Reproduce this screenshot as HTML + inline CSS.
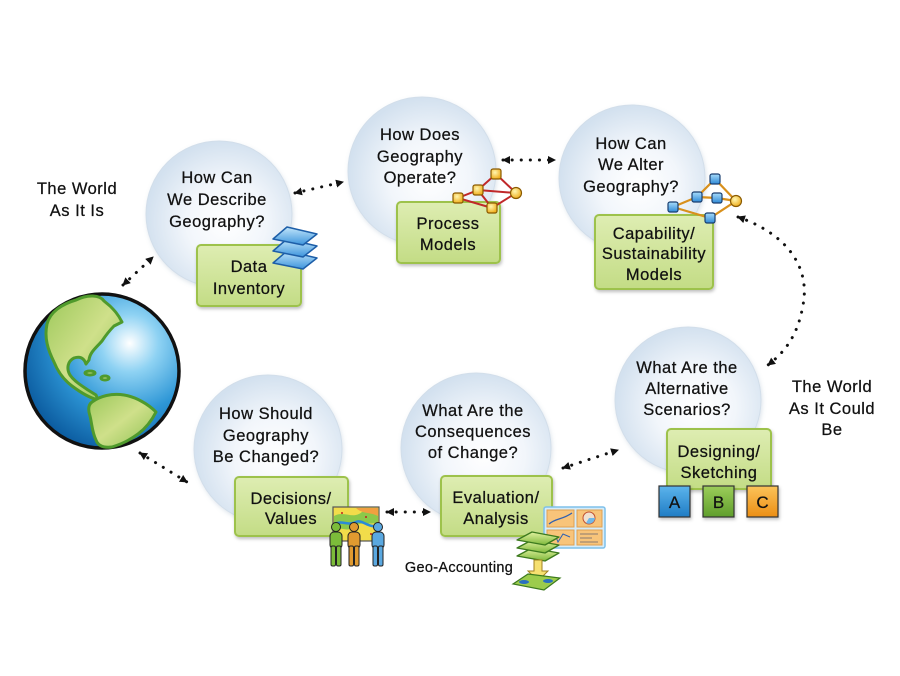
<!DOCTYPE html>
<html><head><meta charset="utf-8"><style>
html,body{margin:0;padding:0;background:#fff;}
svg{display:block;}
text{font-family:"Liberation Sans",sans-serif;fill:#111;stroke:#111;stroke-width:0.25;}
</style></head><body>
<svg width="900" height="676" viewBox="0 0 900 676" xmlns="http://www.w3.org/2000/svg">
<defs>
  <radialGradient id="cg" cx="55%" cy="55%" r="55%">
    <stop offset="0" stop-color="#ffffff"/>
    <stop offset="0.5" stop-color="#f2f6fb"/>
    <stop offset="1" stop-color="#d3e1ef"/>
  </radialGradient>
  <linearGradient id="bg" x1="0" y1="0" x2="0" y2="1">
    <stop offset="0" stop-color="#deedb2"/>
    <stop offset="1" stop-color="#c3dc85"/>
  </linearGradient>
  <radialGradient id="gg" cx="68%" cy="32%" r="75%">
    <stop offset="0" stop-color="#ffffff"/>
    <stop offset="0.25" stop-color="#8ed2f3"/>
    <stop offset="0.6" stop-color="#2d96d6"/>
    <stop offset="1" stop-color="#0b5b9f"/>
  </radialGradient>
  <linearGradient id="land" x1="0" y1="0" x2="1" y2="1">
    <stop offset="0" stop-color="#9cc85a"/>
    <stop offset="0.5" stop-color="#cfe08a"/>
    <stop offset="1" stop-color="#8cc050"/>
  </linearGradient>
  <linearGradient id="bl" x1="0" y1="0" x2="0" y2="1">
    <stop offset="0" stop-color="#c2e6fb"/>
    <stop offset="1" stop-color="#3c94dc"/>
  </linearGradient>
  <linearGradient id="gl" x1="0" y1="0" x2="0" y2="1">
    <stop offset="0" stop-color="#e2f2a0"/>
    <stop offset="1" stop-color="#7db83a"/>
  </linearGradient>
  <linearGradient id="sqA" x1="0" y1="0" x2="0" y2="1"><stop offset="0" stop-color="#5cb4ec"/><stop offset="1" stop-color="#1f7cc4"/></linearGradient>
  <linearGradient id="sqB" x1="0" y1="0" x2="0" y2="1"><stop offset="0" stop-color="#9ccd5a"/><stop offset="1" stop-color="#5f9e2c"/></linearGradient>
  <linearGradient id="sqC" x1="0" y1="0" x2="0" y2="1"><stop offset="0" stop-color="#fbc35a"/><stop offset="1" stop-color="#ec8e14"/></linearGradient>
  <linearGradient id="nb" x1="0" y1="0" x2="0" y2="1"><stop offset="0" stop-color="#a8dcfa"/><stop offset="1" stop-color="#2f8ad6"/></linearGradient>
  <radialGradient id="ny" cx="40%" cy="35%" r="65%"><stop offset="0" stop-color="#fff6b0"/><stop offset="1" stop-color="#f0b020"/></radialGradient>
  <filter id="sh" x="-20%" y="-20%" width="140%" height="140%">
    <feDropShadow dx="1" dy="2" stdDeviation="1.5" flood-color="#000" flood-opacity="0.25"/>
  </filter>
  <filter id="csh" x="-20%" y="-20%" width="140%" height="140%">
    <feDropShadow dx="1" dy="2" stdDeviation="2" flood-color="#6a88a8" flood-opacity="0.22"/>
  </filter>
  <marker id="ah" viewBox="0 0 8 8" refX="7" refY="4" markerWidth="8" markerHeight="8" markerUnits="userSpaceOnUse" orient="auto-start-reverse">
    <path d="M0,0 L8,4 L0,8 z" fill="#111"/>
  </marker>
</defs>

<!-- circles -->
<g filter="url(#csh)" stroke="#d2deea" stroke-width="1">
  <circle cx="219" cy="214" r="73" fill="url(#cg)"/>
  <circle cx="422" cy="171" r="74" fill="url(#cg)"/>
  <circle cx="632" cy="178" r="73" fill="url(#cg)"/>
  <circle cx="688" cy="400" r="73" fill="url(#cg)"/>
  <circle cx="476" cy="448" r="75" fill="url(#cg)"/>
  <circle cx="268" cy="449" r="74" fill="url(#cg)"/>
</g>

<!-- dotted connectors -->
<g fill="none" stroke="#111" stroke-width="3" stroke-linecap="round" stroke-dasharray="0.1 9" marker-start="url(#ah)" marker-end="url(#ah)">
  <path d="M123,285 L153,257"/>
  <path d="M295,193 L343,182"/>
  <path d="M503,160 L555,160"/>
  <path d="M738,217 C790,235 810,270 803,305 C798,335 785,352 768,365"/>
  <path d="M563,468 L618,450"/>
  <path d="M387,512 L430,512"/>
  <path d="M140,453 L187,482"/>
</g>

<!-- circle texts -->
<g font-size="16.5" text-anchor="middle" letter-spacing="0.5">
  <text x="217" y="183">How Can</text>
  <text x="217" y="205">We Describe</text>
  <text x="217" y="227">Geography?</text>

  <text x="420" y="140">How Does</text>
  <text x="420" y="162">Geography</text>
  <text x="420" y="183">Operate?</text>

  <text x="631" y="149">How Can</text>
  <text x="631" y="170">We Alter</text>
  <text x="631" y="192">Geography?</text>

  <text x="687" y="373">What Are the</text>
  <text x="687" y="394">Alternative</text>
  <text x="687" y="415">Scenarios?</text>

  <text x="473" y="416">What Are the</text>
  <text x="473" y="437">Consequences</text>
  <text x="473" y="458">of Change?</text>

  <text x="266" y="419">How Should</text>
  <text x="266" y="441">Geography</text>
  <text x="266" y="462">Be Changed?</text>

  <text x="77" y="194">The World</text>
  <text x="77" y="216">As It Is</text>

  <text x="832" y="392">The World</text>
  <text x="832" y="414">As It Could</text>
  <text x="832" y="435">Be</text>
</g>

<!-- green boxes -->
<g filter="url(#sh)" fill="url(#bg)" stroke="#9dc24c" stroke-width="2">
  <rect x="197" y="245" width="104" height="61" rx="4"/>
  <rect x="397" y="202" width="103" height="61" rx="4"/>
  <rect x="595" y="215" width="118" height="74" rx="4"/>
  <rect x="667" y="429" width="104" height="60" rx="4"/>
  <rect x="441" y="476" width="111" height="60" rx="4"/>
  <rect x="235" y="477" width="113" height="59" rx="4"/>
</g>
<g font-size="16.5" text-anchor="middle" letter-spacing="0.5">
  <text x="249" y="272">Data</text>
  <text x="249" y="294">Inventory</text>
  <text x="448" y="229">Process</text>
  <text x="448" y="250">Models</text>
  <text x="654" y="239">Capability/</text>
  <text x="654" y="259">Sustainability</text>
  <text x="654" y="280">Models</text>
  <text x="719" y="457">Designing/</text>
  <text x="719" y="478">Sketching</text>
  <text x="496" y="503">Evaluation/</text>
  <text x="496" y="524">Analysis</text>
  <text x="291" y="504">Decisions/</text>
  <text x="291" y="524">Values</text>
</g>

<!-- ABC squares -->
<g filter="url(#sh)" stroke="#333" stroke-width="1.2">
  <rect x="659" y="486" width="31" height="31" fill="url(#sqA)"/>
  <rect x="703" y="486" width="31" height="31" fill="url(#sqB)"/>
  <rect x="747" y="486" width="31" height="31" fill="url(#sqC)"/>
</g>
<g font-size="17" text-anchor="middle">
  <text x="674.5" y="508">A</text>
  <text x="718.5" y="508">B</text>
  <text x="762.5" y="508">C</text>
</g>

<!-- Geo-Accounting -->
<text x="459" y="572" font-size="14.5" text-anchor="middle" letter-spacing="0.3">Geo-Accounting</text>

<!-- Globe -->
<g>
  <circle cx="102" cy="371" r="77" fill="url(#gg)" stroke="#111" stroke-width="3.5"/>
  <g fill="url(#land)" stroke="#4f9a2c" stroke-width="3" stroke-linejoin="round">
    <path d="M76,300 C88,294 100,295 104,301 L110,306 C114,310 118,314 122,322 L114,326 C110,330 106,335 102,341 C96,348 90,352 89,360 L86,364 C84,358 80,356 74,358 C68,361 66,368 70,375 C74,381 82,386 88,390 L96,395 L98,400 C90,398 80,392 72,386 C64,380 58,372 54,362 C48,350 44,338 47,324 C50,312 62,304 76,300 Z"/>
    <path d="M92,402 C100,396 112,393 124,395 C136,397 148,404 156,412 C152,420 146,428 138,434 C130,440 122,444 112,447 C104,448 98,446 96,440 C92,432 92,424 90,416 C88,410 88,405 92,402 Z"/>
    <ellipse cx="90" cy="373" rx="5" ry="2"/>
    <ellipse cx="105" cy="378" rx="4" ry="2"/>
  </g>
</g>

<!-- Data Inventory blue layers -->
<g stroke="#1d5ea8" stroke-width="1.5" stroke-linejoin="round" fill="url(#bl)">
  <path d="M273,263 L287,251 L317,258 L303,269 Z"/>
  <path d="M273,251 L287,239 L317,246 L303,257 Z"/>
  <path d="M273,239 L287,227 L317,234 L303,245 Z"/>
</g>

<!-- Process model network (red) -->
<g stroke="#c0282a" stroke-width="2" fill="none">
  <path d="M496,174 L478,190 L458,198 L492,208 L516,193 L496,174"/>
  <path d="M478,190 L516,193"/>
  <path d="M478,190 L492,208"/>
</g>
<g stroke="#8a5a00" stroke-width="1.2" fill="url(#ny)">
  <rect x="491" y="169" width="10" height="10" rx="2"/>
  <rect x="473" y="185" width="10" height="10" rx="2"/>
  <rect x="453" y="193" width="10" height="10" rx="2"/>
  <rect x="487" y="203" width="10" height="10" rx="2"/>
  <circle cx="516" cy="193" r="5.5"/>
</g>

<!-- Capability network (orange/blue) -->
<g stroke="#d8901c" stroke-width="2.2" fill="none">
  <path d="M673,207 L697,197 L715,179 L736,201 L710,218 L673,207"/>
  <path d="M697,197 L717,198 L736,201"/>
</g>
<g stroke="#1a3f70" stroke-width="1.2" fill="url(#nb)">
  <rect x="710" y="174" width="10" height="10" rx="2"/>
  <rect x="692" y="192" width="10" height="10" rx="2"/>
  <rect x="712" y="193" width="10" height="10" rx="2"/>
  <rect x="668" y="202" width="10" height="10" rx="2"/>
  <rect x="705" y="213" width="10" height="10" rx="2"/>
</g>
<circle cx="736" cy="201" r="5.5" fill="url(#ny)" stroke="#8a5a00" stroke-width="1.2"/>

<!-- Decisions map + people -->
<g>
  <rect x="333" y="507" width="46" height="34" fill="#f2dc4a" stroke="#555" stroke-width="1.2"/>
  <path d="M334,516 C345,510 352,520 362,512 C368,508 374,514 378,510 L378,522 C370,526 360,520 352,528 C346,532 340,526 334,530 Z" fill="#8cc84a"/>
  <path d="M334,524 C342,520 348,526 356,522 C362,519 368,528 378,526" stroke="#2a8ad8" stroke-width="2.5" fill="none"/>
  <path d="M356,508 C362,514 370,512 378,516 L378,508 Z" fill="#f0a040"/>
  <circle cx="342" cy="513" r="1" fill="#c02020"/><circle cx="366" cy="517" r="1" fill="#c02020"/><circle cx="350" cy="533" r="1" fill="#c02020"/><circle cx="371" cy="534" r="1" fill="#c02020"/>
</g>
<g stroke="#222" stroke-width="1">
  <g fill="#7cbc3a">
    <circle cx="336" cy="527" r="4.5"/>
    <rect x="330" y="532" width="12" height="17" rx="4"/>
    <rect x="331" y="546" width="4.5" height="20" rx="1.5"/>
    <rect x="336.5" y="546" width="4.5" height="20" rx="1.5"/>
  </g>
  <g fill="#e09a30">
    <circle cx="354" cy="527" r="4.5"/>
    <rect x="348" y="532" width="12" height="17" rx="4"/>
    <rect x="349" y="546" width="4.5" height="20" rx="1.5"/>
    <rect x="354.5" y="546" width="4.5" height="20" rx="1.5"/>
  </g>
  <g fill="#5aa8e0">
    <circle cx="378" cy="527" r="4.5"/>
    <rect x="372" y="532" width="12" height="17" rx="4"/>
    <rect x="373" y="546" width="4.5" height="20" rx="1.5"/>
    <rect x="378.5" y="546" width="4.5" height="20" rx="1.5"/>
  </g>
</g>

<!-- Evaluation chart panel -->
<g>
  <rect x="544" y="507" width="61" height="41" rx="2" fill="#d4ecfa" stroke="#7ec0ea" stroke-width="1.5"/>
  <g fill="#f8c47a" stroke="#e0a050" stroke-width="1">
    <rect x="547" y="510" width="27" height="17"/>
    <rect x="577" y="510" width="25" height="17"/>
    <rect x="547" y="530" width="27" height="15"/>
    <rect x="577" y="530" width="25" height="15"/>
  </g>
  <path d="M549,524 C556,518 562,520 572,513" stroke="#3060b0" stroke-width="1.3" fill="none"/>
  <circle cx="589" cy="518" r="6" fill="#f0e0d0" stroke="#c05030" stroke-width="1"/>
  <path d="M589,518 L595,518 A6,6 0 0 1 586,523 Z" fill="#70b8e8"/>
  <path d="M549,537 L556,537 L558,542 L563,534 L570,537" stroke="#3060b0" stroke-width="1" fill="none"/>
  <path d="M580,534 h18 M580,538 h12 M580,542 h18" stroke="#8a7a70" stroke-width="1"/>
</g>

<!-- Geo-accounting green layers + arrow + map -->
<g stroke="#3c7a1e" stroke-width="1.3" stroke-linejoin="round" fill="url(#gl)">
  <path d="M517,556 L532,548 L559,553 L545,561 Z"/>
  <path d="M517,548 L532,540 L559,545 L545,553 Z"/>
  <path d="M517,540 L532,532 L559,537 L545,545 Z"/>
</g>
<path d="M534,560 L542,560 L542,571 L548,571 L538,581 L528,571 L534,571 Z" fill="#f6e070" stroke="#a08020" stroke-width="1"/>
<path d="M513,584 L528,574 L560,578 L544,590 Z" fill="#9ccc4c" stroke="#3c7a1e" stroke-width="1.2"/>
<ellipse cx="524" cy="582" rx="5" ry="2" fill="#2a70c0"/>
<ellipse cx="548" cy="581" rx="5" ry="2" fill="#2a70c0"/>
</svg>
</body></html>
